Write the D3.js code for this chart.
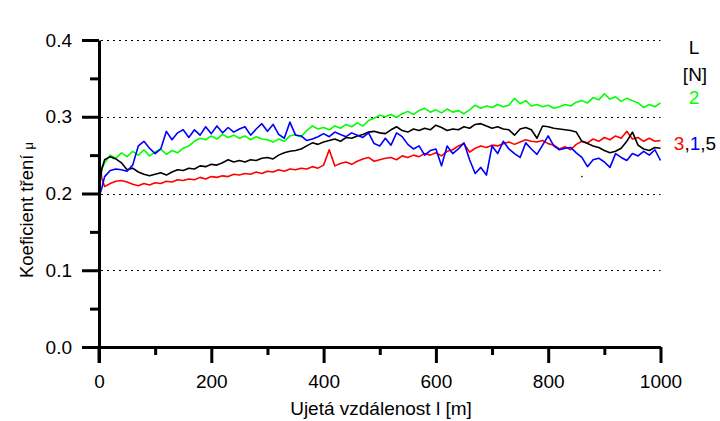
<!DOCTYPE html>
<html>
<head>
<meta charset="utf-8">
<script src="https://cdn.jsdelivr.net/npm/d3@7"></script>
<style>
  html, body { margin: 0; padding: 0; background: #fff; }
  svg { display: block; font-family: Arial, "Liberation Sans", sans-serif; }
</style>
</head>
<body>
<svg id="chart" width="720" height="421"></svg>
<script>
// Sliding distance l [m] at which friction coefficient was sampled
const distance = [0, 2, 5].concat(d3.range(10, 1001, 10));

// Friction coefficient μ for each normal load L [N]
const mu3N = [0.195, 0.240, 0.220, 0.209, 0.213, 0.216, 0.217, 0.215, 0.212, 0.210, 0.213, 0.211,
  0.214, 0.213, 0.216, 0.215, 0.218, 0.217, 0.219, 0.218, 0.221, 0.219,
  0.222, 0.221, 0.223, 0.222, 0.225, 0.224, 0.226, 0.225, 0.228, 0.226,
  0.229, 0.228, 0.231, 0.229, 0.232, 0.231, 0.233, 0.232, 0.235, 0.233,
  0.237, 0.257, 0.236, 0.239, 0.241, 0.238, 0.242, 0.245, 0.247, 0.242,
  0.244, 0.246, 0.247, 0.244, 0.249, 0.247, 0.250, 0.248, 0.252, 0.250,
  0.253, 0.249, 0.255, 0.257, 0.262, 0.265, 0.254, 0.259, 0.262, 0.260,
  0.263, 0.262, 0.265, 0.267, 0.264, 0.267, 0.270, 0.268, 0.267, 0.269,
  0.265, 0.263, 0.258, 0.261, 0.257, 0.264, 0.268, 0.266, 0.271, 0.268,
  0.273, 0.270, 0.275, 0.272, 0.281, 0.271, 0.273, 0.268, 0.272, 0.268,
  0.269];

const mu2N = [0.205, 0.215, 0.232, 0.240, 0.250, 0.246, 0.253, 0.248, 0.255, 0.250, 0.257, 0.249,
  0.254, 0.258, 0.251, 0.256, 0.253, 0.259, 0.262, 0.268, 0.272, 0.270,
  0.275, 0.271, 0.277, 0.273, 0.276, 0.272, 0.275, 0.270, 0.274, 0.271,
  0.270, 0.267, 0.271, 0.268, 0.275, 0.277, 0.274, 0.282, 0.288, 0.284,
  0.286, 0.283, 0.288, 0.285, 0.290, 0.287, 0.292, 0.288, 0.295, 0.298,
  0.302, 0.300, 0.303, 0.299, 0.304, 0.307, 0.303, 0.308, 0.311, 0.306,
  0.309, 0.305, 0.310, 0.306, 0.308, 0.304, 0.309, 0.315, 0.311, 0.314,
  0.312, 0.316, 0.313, 0.315, 0.324, 0.317, 0.321, 0.314, 0.316, 0.313,
  0.315, 0.311, 0.313, 0.316, 0.314, 0.319, 0.321, 0.318, 0.325, 0.322,
  0.330, 0.323, 0.326, 0.320, 0.324, 0.321, 0.318, 0.312, 0.316, 0.313,
  0.318];

const mu1N = [0.195, 0.200, 0.207, 0.222, 0.230, 0.232, 0.231, 0.229, 0.237, 0.262, 0.268, 0.259,
  0.252, 0.258, 0.281, 0.270, 0.279, 0.283, 0.273, 0.283, 0.276, 0.287,
  0.278, 0.288, 0.279, 0.286, 0.280, 0.284, 0.287, 0.276, 0.284, 0.291,
  0.281, 0.290, 0.277, 0.272, 0.293, 0.276, 0.275, 0.269, 0.271, 0.274,
  0.278, 0.274, 0.280, 0.277, 0.274, 0.279, 0.276, 0.273, 0.279, 0.265,
  0.262, 0.272, 0.263, 0.279, 0.274, 0.264, 0.258, 0.262, 0.250, 0.256,
  0.258, 0.236, 0.262, 0.252, 0.258, 0.266, 0.244, 0.226, 0.234, 0.224,
  0.262, 0.252, 0.268, 0.258, 0.252, 0.247, 0.266, 0.258, 0.251, 0.263,
  0.275, 0.262, 0.257, 0.259, 0.260, 0.253, 0.247, 0.235, 0.244, 0.246,
  0.241, 0.234, 0.252, 0.247, 0.243, 0.252, 0.249, 0.255, 0.250, 0.257,
  0.243];

const mu5N = [0.190, 0.215, 0.232, 0.244, 0.248, 0.245, 0.240, 0.231, 0.233, 0.228, 0.225, 0.223,
  0.225, 0.227, 0.224, 0.228, 0.231, 0.230, 0.233, 0.232, 0.236, 0.235,
  0.238, 0.237, 0.240, 0.244, 0.241, 0.243, 0.241, 0.244, 0.243, 0.246,
  0.247, 0.245, 0.250, 0.253, 0.255, 0.256, 0.258, 0.262, 0.266, 0.264,
  0.267, 0.269, 0.271, 0.268, 0.273, 0.272, 0.275, 0.277, 0.280, 0.281,
  0.279, 0.278, 0.283, 0.287, 0.282, 0.280, 0.284, 0.282, 0.285, 0.283,
  0.289, 0.286, 0.282, 0.284, 0.283, 0.287, 0.285, 0.290, 0.291, 0.288,
  0.285, 0.287, 0.284, 0.283, 0.276, 0.284, 0.286, 0.283, 0.272, 0.288,
  0.287, 0.285, 0.284, 0.283, 0.282, 0.280, 0.268, 0.265, 0.262, 0.260,
  0.256, 0.253, 0.255, 0.259, 0.268, 0.280, 0.263, 0.258, 0.256, 0.260,
  0.259];

// Isolated sample recorded apart from the 5 N trace
const strayPoint = [860, 0.222];

const xTickValues = [0, 200, 400, 600, 800, 1000];
const yTickValues = [0.0, 0.1, 0.2, 0.3, 0.4];
const gridValues = [0.1, 0.2, 0.3, 0.4];

const series = [
  { load: "3", values: mu3N, color: "#ff0000" },
  { load: "2", values: mu2N, color: "#00ff00" },
  { load: "5", values: mu5N, color: "#000000" },
  { load: "1", values: mu1N, color: "#0000ff" }
];

const FONT = "Arial, Liberation Sans, sans-serif";
const svg = d3.select("#chart");
const x = d3.scaleLinear().domain([0, 1000]).range([99, 660.5]);
const y = d3.scaleLinear().domain([0, 0.4]).range([347, 40]);

// dotted horizontal grid
svg.append("g").selectAll("line").data(gridValues).join("line")
  .attr("x1", x(0) + 2).attr("x2", x(1000))
  .attr("y1", d => Math.round(y(d)) + 0.5).attr("y2", d => Math.round(y(d)) + 0.5)
  .attr("stroke", "#000").attr("stroke-width", 1.2)
  .attr("stroke-dasharray", "2,4");

// data traces
const line = d3.line().x((d, i) => x(distance[i])).y(d => y(d));
svg.append("g").selectAll("path").data(series).join("path")
  .attr("d", d => line(d.values))
  .attr("fill", "none")
  .attr("stroke", d => d.color)
  .attr("stroke-width", 1.6)
  .attr("stroke-linejoin", "round");

svg.append("circle")
  .attr("cx", x(strayPoint[0])).attr("cy", y(strayPoint[1]))
  .attr("r", 0.8).attr("fill", "#000");

// axes
const xAxis = d3.axisBottom(x).tickValues(d3.range(0, 1001, 100))
  .tickSize(16).tickSizeOuter(0).tickFormat(d => xTickValues.includes(d) ? d : "");
const gx = svg.append("g").attr("transform", `translate(0,${y(0)})`).call(xAxis);
gx.select(".domain").attr("stroke-width", 3);
gx.selectAll(".tick line").attr("stroke-width", 3)
  .attr("y2", d => xTickValues.includes(d) ? 16 : 8);
gx.selectAll(".tick text").attr("y", 41).attr("dy", null)
  .attr("font-size", 19).attr("fill", "#000").attr("font-family", FONT);

const yAxis = d3.axisLeft(y).tickValues(d3.range(0, 0.41, 0.05))
  .tickSize(17).tickSizeOuter(0)
  .tickFormat(d => yTickValues.some(v => Math.abs(v - d) < 1e-9) ? d3.format(".1f")(d) : "");
const gy = svg.append("g").attr("transform", `translate(${x(0)},0)`).call(yAxis);
gy.select(".domain").attr("stroke-width", 3);
gy.selectAll(".tick line").attr("stroke-width", 3)
  .attr("x2", d => yTickValues.some(v => Math.abs(v - d) < 1e-9) ? -17 : -9);
gy.selectAll(".tick text").attr("x", -27)
  .attr("font-size", 19).attr("fill", "#000").attr("font-family", FONT);
// y axis continues a little below the x axis
svg.append("line").attr("x1", x(0)).attr("x2", x(0))
  .attr("y1", y(0)).attr("y2", y(0) + 16).attr("stroke", "#000").attr("stroke-width", 3);

// axis titles
svg.append("text").attr("x", 381).attr("y", 415).attr("text-anchor", "middle")
  .attr("font-size", 19).text("Ujetá vzdálenost l [m]");

const yt = svg.append("text").attr("transform", "translate(33,210) rotate(-90)")
  .attr("text-anchor", "middle").attr("font-size", 18.5);
yt.append("tspan").text("Koeficient tření ");
yt.append("tspan").attr("font-size", 13).text("μ");

// load labels on the right
const lab = svg.append("g").attr("font-size", 19).attr("text-anchor", "middle");
lab.append("text").attr("x", 694).attr("y", 54).text("L");
lab.append("text").attr("x", 695).attr("y", 81).text("[N]");
lab.append("text").attr("x", 694).attr("y", 104).attr("fill", "#00ff00").text(series[1].load);
const loadRow = lab.append("text").attr("x", 695).attr("y", 150);
loadRow.append("tspan").attr("fill", "#ff0000").text(series[0].load);
loadRow.append("tspan").text(",");
loadRow.append("tspan").attr("fill", "#0000ff").text(series[3].load);
loadRow.append("tspan").text(",");
loadRow.append("tspan").text(series[2].load);
</script>
</body>
</html>
